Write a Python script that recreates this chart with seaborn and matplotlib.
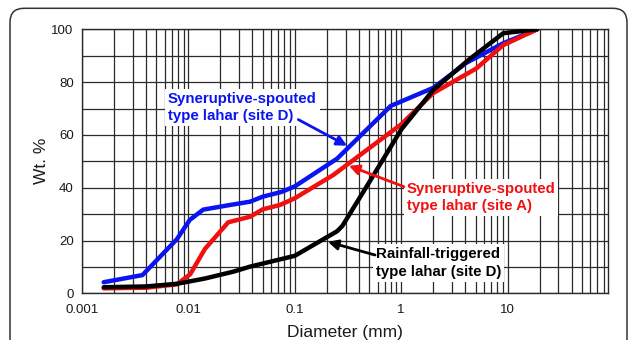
import numpy as np
import pandas as pd
import matplotlib
matplotlib.use("Agg")
import matplotlib.pyplot as plt
import matplotlib.patches as mpatches
import matplotlib.transforms as mtransforms
from matplotlib.ticker import LogLocator, FixedLocator, NullFormatter, MultipleLocator
import seaborn as sns

# ---------------- data ----------------
blue_x = [0.0016, 0.0037, 0.0078, 0.0103, 0.0138, 0.025, 0.038, 0.05, 0.075, 0.1, 0.25, 0.8, 2.0, 4.1, 9.1, 19]
blue_y = [4.2, 6.9, 20.5, 27.8, 31.7, 33.5, 34.7, 36.6, 38.4, 40.5, 51.0, 71.0, 77.8, 87.3, 94.7, 100]

red_x = [0.0016, 0.004, 0.0078, 0.0104, 0.0143, 0.0237, 0.038, 0.05, 0.073, 0.1, 0.23, 1.0, 2.0, 5.1, 9.1, 19]
red_y = [1.9, 2.1, 3.4, 7.2, 16.8, 26.9, 29.0, 31.8, 33.5, 36.0, 44.8, 64.0, 75.8, 85.2, 94.0, 100]

black_x = [0.0016, 0.004, 0.0078, 0.0143, 0.0265, 0.038, 0.1, 0.25, 0.28, 0.5, 1.0, 2.0, 4.3, 9.1, 19]
black_y = [2.3, 2.6, 3.6, 5.6, 8.2, 10.1, 14.2, 23.5, 25.5, 42.0, 62.0, 77.0, 88.4, 98.5, 100]

x_ticks = [0.001, 0.01, 0.1, 1, 10]
x_tick_labels = ["0.001", "0.01", "0.1", "1", "10"]
y_ticks = [0, 20, 40, 60, 80, 100]

label_blue = "Syneruptive-spouted\ntype lahar (site D)"
label_red = "Syneruptive-spouted\ntype lahar (site A)"
label_black = "Rainfall-triggered\ntype lahar (site D)"

# ---------------- style ----------------
sns.set_theme(style="white")
plt.rcParams["font.family"] = ["Liberation Sans", "DejaVu Sans"]

fig = plt.figure(figsize=(6.3, 3.4), dpi=100)
ax = fig.add_axes([82 / 630, 1 - 293.3 / 340, (608 - 82) / 630, (293.3 - 29.3) / 340])

ax.set_xscale("log")
ax.set_xlim(0.001, 88)
ax.set_ylim(0, 100)

ax.xaxis.set_major_locator(FixedLocator(x_ticks))
ax.set_xticks(x_ticks)
ax.set_xticklabels(x_tick_labels)
ax.xaxis.set_minor_locator(LogLocator(base=10, subs=np.arange(2, 10)))
ax.xaxis.set_minor_formatter(NullFormatter())
ax.set_yticks(y_ticks)
ax.yaxis.set_minor_locator(MultipleLocator(10))

ax.grid(which="both", axis="both", color="#2a2a2a", lw=0.9, zorder=0)
ax.set_axisbelow(True)
ax.tick_params(which="both", length=0)
ax.tick_params(axis="x", pad=8, labelsize=9.5, colors="#1a1a1a")
ax.tick_params(axis="y", pad=6, labelsize=9.5, colors="#1a1a1a")
for s in ax.spines.values():
    s.set_color("#2a2a2a")
    s.set_linewidth(1.0)

# ---------------- curves ----------------
for xs, ys, c in [(blue_x, blue_y, "#0a14f0"), (red_x, red_y, "#f01010"), (black_x, black_y, "black")]:
    df = pd.DataFrame({"d": xs, "w": ys})
    sns.lineplot(data=df, x="d", y="w", ax=ax, color=c, lw=3.2, sort=False,
                 estimator=None, zorder=5)

ax.set_xlabel("Diameter (mm)", fontsize=12.5, labelpad=6, color="#1a1a1a")
ax.set_ylabel("Wt. %", fontsize=12.5, labelpad=2, color="#1a1a1a")

# ---------------- annotations ----------------
box = dict(boxstyle="square,pad=0.2", fc="white", ec="none")
ax.text(0.00643, 76.2, label_blue, color="#0a14f0", fontsize=10.8, fontweight="bold",
        ha="left", va="top", bbox=box, zorder=4, linespacing=1.3)
ax.text(1.126, 42.2, label_red, color="#f01010", fontsize=10.8, fontweight="bold",
        ha="left", va="top", bbox=box, zorder=4, linespacing=1.3)
ax.text(0.58, 17.4, label_black, color="black", fontsize=10.8, fontweight="bold",
        ha="left", va="top", bbox=box, zorder=4, linespacing=1.3)

arrow_kw = dict(arrowstyle="-|>", lw=2, mutation_scale=15, shrinkA=0, shrinkB=0)
ax.annotate("", xy=(0.31, 55.9), xytext=(0.108, 65.8),
            arrowprops=dict(color="#0a14f0", **arrow_kw), zorder=6)
ax.annotate("", xy=(0.323, 48.3), xytext=(1.06, 40.4),
            arrowprops=dict(color="#f01010", **arrow_kw), zorder=6)
ax.annotate("", xy=(0.205, 19.5), xytext=(0.568, 14.5),
            arrowprops=dict(color="black", **arrow_kw), zorder=6)

# ---------------- rounded figure frame ----------------
frame = mpatches.FancyBboxPatch((10, -30), 617, 340 - 8.3 + 30,
                                boxstyle="round,pad=0,rounding_size=14",
                                fc="none", ec="#333333", lw=1.1,
                                transform=mtransforms.IdentityTransform())
fig.add_artist(frame)

fig.savefig("out.png", dpi=100)
